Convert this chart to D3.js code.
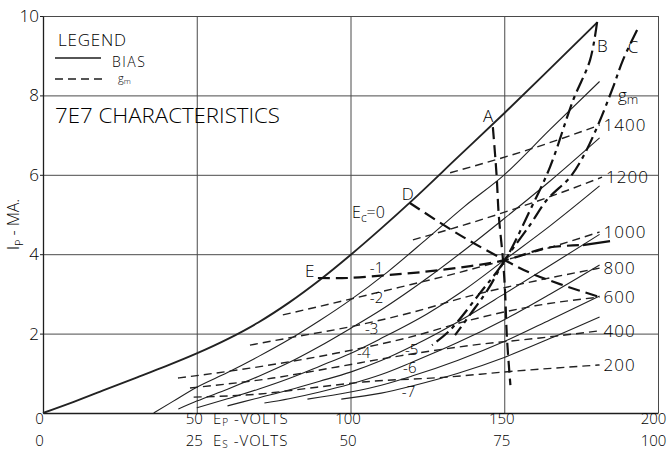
<!DOCTYPE html>
<html><head><meta charset="utf-8">
<script src="https://cdn.jsdelivr.net/npm/d3@7"></script>
<style>
body{margin:0;background:#fff}
text{font-family:"Open Sans","DejaVu Sans",sans-serif;font-weight:300;fill:#000}
</style>
</head><body>
<svg id="c" width="672" height="452"></svg>
<script>
// ---- data ----
const epTicks = [0, 50, 100, 150, 200];
const esTicks = [0, 25, 50, 75, 100];
const ipTicks = [2, 4, 6, 8, 10];

const biasLabels = ["Ec=0", "-1", "-2", "-3", "-4", "-5", "-6", "-7"];
const ec0 = [[0,0],[10,0.28],[20,0.58],[30,0.88],[40,1.18],[50,1.5],[60,1.86],[70,2.28],[80,2.78],[90,3.35],[100,3.98],[110,4.65],[120,5.35],[135,6.45],[150,7.55],[165,8.68],[180,9.82]];
const ec1 = [[36,0],[42,0.28],[50,0.65],[60,1.02],[70,1.42],[80,1.85],[90,2.33],[100,2.85],[112,3.55],[125,4.4],[137,5.2],[150,6.0],[165,7.15],[181,8.35]];
const ec2 = [[44,0.1],[50,0.3],[60,0.6],[70,0.92],[80,1.27],[90,1.68],[100,2.13],[110,2.6],[125,3.4],[137,4.1],[150,4.9],[165,5.85],[181,6.93]];
const ec3 = [[50,0.13],[60,0.36],[70,0.6],[80,0.87],[90,1.18],[100,1.5],[110,1.88],[125,2.5],[137,3.1],[150,3.85],[165,4.72],[181,5.72]];
const ec4 = [[60,0.18],[70,0.38],[80,0.58],[90,0.8],[100,1.03],[110,1.32],[120,1.68],[135,2.3],[150,3.0],[165,3.72],[181,4.5]];
const ec5 = [[72,0.25],[80,0.36],[90,0.53],[100,0.73],[110,0.97],[120,1.28],[135,1.78],[150,2.35],[165,3.0],[181,3.73]];
const ec6 = [[86,0.35],[100,0.53],[110,0.7],[120,0.93],[135,1.33],[150,1.8],[165,2.35],[181,2.95]];
const ec7 = [[97,0.35],[110,0.5],[120,0.68],[135,1.0],[150,1.4],[165,1.88],[181,2.42]];

const gmLabels = ["200", "400", "600", "800", "1000", "1200", "1400"];
const gm200  = [[49,0.4],[70.6,0.48],[89.1,0.65],[104.1,0.78],[132.4,0.91],[149.6,1.03],[181,1.21]];
const gm400  = [[47.8,0.63],[74.8,0.88],[95.6,1.16],[116.1,1.44],[139.8,1.71],[161.6,1.89],[181,2.07]];
const gm600  = [[43.9,0.88],[67.3,1.13],[95.6,1.51],[119.3,1.91],[138.9,2.34],[160,2.7],[181,2.92]];
const gm800  = [[67.3,1.71],[81.3,1.91],[99.8,2.17],[120.3,2.54],[138.9,2.95],[161.6,3.35],[181,3.65]];
const gm1000 = [[78,2.47],[98.9,2.85],[116.1,3.17],[132.4,3.48],[150.2,3.85],[163.2,4.13],[181,4.56]];
const gm1200 = [[120.3,4.36],[145.4,4.94],[168.1,5.54],[181.8,5.94]];
const gm1400 = [[132.4,6.05],[157.4,6.62],[181,7.25]];

const loadLabels = ["A", "B", "C", "D", "E"];
const lineA = [[146.3,7.2],[147.5,6.0],[148.2,5.0],[149.6,3.85],[150.3,3.0],[150.8,2.0],[151.5,1.2],[152,0.7]];
const lineB = [[180.2,9.85],[177.9,8.89],[172.4,7.88],[164.9,6.2],[158.4,5.11],[150.2,3.85],[142.1,3.02],[132.4,2.09],[126.5,1.71]];
const lineC = [[193.2,9.65],[188.6,8.89],[185.4,8.21],[180.2,7.2],[175.6,6.45],[171.4,5.94],[163.9,5.37],[158.4,4.74],[150.2,3.85],[144.6,3.1],[138.8,2.47],[134,1.96]];
const lineD = [[119.3,5.29],[135.6,4.48],[150.2,3.85],[158.4,3.53],[169.1,3.22],[181.1,2.92]];
const lineE = [[89.4,3.4],[98.9,3.4],[112.8,3.48],[129.1,3.6],[150.2,3.85],[163.9,4.16],[175.6,4.23]];
const lineETail = [[175.6,4.23],[184.4,4.33]];

// ---- drawing ----
const svg = d3.select("#c");
const x = d3.scaleLinear().domain([0, 200]).range([43, 658]);
const xs = d3.scaleLinear().domain([0, 100]).range([43, 658]);
const y = d3.scaleLinear().domain([0, 10]).range([413, 16]);
const ink = "#1e1e1e";

// grid
svg.append("g").attr("transform", `translate(${x(0)},0)`)
  .call(d3.axisLeft(y).tickValues(ipTicks).tickSize(-(x(200) - x(0))).tickFormat(""))
  .call(g => g.select(".domain").remove())
  .call(g => g.selectAll("line").attr("stroke", "#4a4a4a").attr("stroke-width", 1));
svg.append("g").attr("transform", `translate(0,${y(0)})`)
  .call(d3.axisBottom(x).tickValues(epTicks.slice(1)).tickSize(-(y(0) - y(10))).tickFormat(""))
  .call(g => g.select(".domain").remove())
  .call(g => g.selectAll("line").attr("stroke", "#4a4a4a").attr("stroke-width", 1));

// axes
svg.append("g").attr("transform", `translate(${x(0)},0)`)
  .call(d3.axisLeft(y).tickValues(ipTicks).tickSize(3).tickSizeOuter(0).tickPadding(1))
  .call(g => g.select(".domain").attr("stroke", ink).attr("stroke-width", 1.3))
  .call(g => g.selectAll("line").attr("stroke", ink))
  .call(g => g.selectAll("text").attr("font-size", 17).attr("fill", "#000"));
const bx = svg.append("g").attr("transform", `translate(0,${y(0)})`)
  .call(d3.axisBottom(x).tickValues(epTicks).tickSize(0).tickPadding(0))
  .call(g => g.select(".domain").attr("stroke", ink).attr("stroke-width", 1.3))
  .call(g => g.selectAll("text").attr("font-size", 15).attr("fill", "#000"));
const bx2 = svg.append("g").attr("transform", `translate(0,${y(0)})`)
  .call(d3.axisBottom(xs).tickValues(esTicks).tickSize(0).tickPadding(22))
  .call(g => g.select(".domain").remove())
  .call(g => g.selectAll("text").attr("font-size", 15).attr("fill", "#000"));
[bx, bx2].forEach(g => {
  g.selectAll(".tick text").attr("dx", (d, i) => i === 0 ? -4 : (i === 4 ? -5 : -3));
});

const lineGen = d3.line().x(d => x(d[0])).y(d => y(d[1])).curve(d3.curveMonotoneX);
const lineLin = d3.line().x(d => x(d[0])).y(d => y(d[1])).curve(d3.curveCatmullRom.alpha(0.5));

// bias curves
const biasSeries = [ec0, ec1, ec2, ec3, ec4, ec5, ec6, ec7];
svg.append("g").selectAll("path").data(biasSeries).join("path")
  .attr("d", lineGen).attr("fill", "none").attr("stroke", "#222")
  .attr("stroke-width", (d, i) => i === 0 ? 1.9 : 1.1);

// gm contours
const gmSeries = [gm200, gm400, gm600, gm800, gm1000, gm1200, gm1400];
svg.append("g").selectAll("path").data(gmSeries).join("path")
  .attr("d", lineGen).attr("fill", "none").attr("stroke", "#222")
  .attr("stroke-width", 1.4).attr("stroke-dasharray", "8,5");
svg.append("g").selectAll("text").data(gmSeries).join("text")
  .attr("x", d => x(d[d.length - 1][0]) + 4)
  .attr("y", d => y(d[d.length - 1][1]))
  .attr("dy", "0.36em").attr("font-size", 17).attr("letter-spacing", 1)
  .text((d, i) => gmLabels[i]);

// heavy construction lines A..E
const heavy = [
  {pts: lineA, dash: "12,6"},
  {pts: lineB, dash: "15,5,4,5"},
  {pts: lineC, dash: "15,5,4,5"},
  {pts: lineD, dash: "12,6"},
  {pts: lineE, dash: "12,6"}
];
svg.append("g").selectAll("path").data(heavy).join("path")
  .attr("d", d => lineLin(d.pts)).attr("fill", "none").attr("stroke", "#111")
  .attr("stroke-width", 2.2).attr("stroke-dasharray", d => d.dash);
svg.append("path").datum(lineETail).attr("d", lineLin)
  .attr("fill", "none").attr("stroke", "#111").attr("stroke-width", 2.2);

// labels for heavy lines
const loadPos = [[143.1,7.33],[180.2,9.09],[190.2,9.07],[116.7,5.37],[85.2,3.43]];
svg.append("g").selectAll("text").data(loadLabels).join("text")
  .attr("x", (d, i) => x(loadPos[i][0])).attr("y", (d, i) => y(loadPos[i][1]))
  .attr("font-size", 17).text(d => d);

// bias labels
const biasPos = [[100.5,4.91],[106.3,3.53],[106.3,2.77],[104.7,1.99],[102.1,1.39],[117.7,1.47],[117.1,1.0],[116.7,0.40]];
const bl = svg.append("g").selectAll("text").data(biasLabels).join("text")
  .attr("x", (d, i) => x(biasPos[i][0])).attr("y", (d, i) => y(biasPos[i][1]))
  .attr("font-size", 15);
bl.each(function(d) {
  const t = d3.select(this);
  if (d.startsWith("Ec")) {
    t.attr("font-size", 16);
    t.append("tspan").text("E");
    t.append("tspan").attr("font-size", 12).attr("dy", 4).text("c");
    t.append("tspan").attr("dy", -4).text("=0");
  } else t.text(d);
});

// gm heading near right
const gmHead = svg.append("text").attr("x", x(187)).attr("y", y(7.86)).attr("font-size", 17);
gmHead.append("tspan").text("g");
gmHead.append("tspan").attr("font-size", 13).attr("dy", 3).text("m");

// legend
svg.append("text").attr("x", 58).attr("y", 46).attr("font-size", 17).attr("letter-spacing", 0.8).text("LEGEND");
svg.append("line").attr("x1", 55).attr("x2", 101).attr("y1", 58).attr("y2", 58).attr("stroke", ink).attr("stroke-width", 1.3);
svg.append("text").attr("x", 112).attr("y", 66.5).attr("font-size", 14).attr("letter-spacing", 1.5).text("BIAS");
svg.append("line").attr("x1", 55).attr("x2", 107).attr("y1", 79).attr("y2", 79).attr("stroke", ink).attr("stroke-width", 1.3).attr("stroke-dasharray", "8,5");
const lg = svg.append("text").attr("x", 118).attr("y", 82).attr("font-size", 11);
lg.append("tspan").text("g");
lg.append("tspan").attr("font-size", 8).attr("dy", 2).text("m");

svg.append("text").attr("x", 55).attr("y", 123).attr("font-size", 20)
  .attr("textLength", 225).attr("lengthAdjust", "spacingAndGlyphs").text("7E7 CHARACTERISTICS");

// axis titles
const yt = svg.append("text").attr("transform", "translate(19,250) rotate(-90)").attr("font-size", 16);
yt.append("tspan").text("I");
yt.append("tspan").attr("font-size", 11).attr("dy", 4).text("P");
yt.append("tspan").attr("dy", -4).text(" - MA.");

const xt1 = svg.append("text").attr("x", 213).attr("y", 424).attr("font-size", 15).attr("letter-spacing", 1);
xt1.append("tspan").text("E");
xt1.append("tspan").attr("font-size", 10).attr("dy", 2).text("P");
xt1.append("tspan").attr("dy", -2).text(" -VOLTS");
const xt2 = svg.append("text").attr("x", 213).attr("y", 445.5).attr("font-size", 15).attr("letter-spacing", 1);
xt2.append("tspan").text("E");
xt2.append("tspan").attr("font-size", 10).attr("dy", 2).text("S");
xt2.append("tspan").attr("dy", -2).text(" -VOLTS");
</script>
</body></html>
